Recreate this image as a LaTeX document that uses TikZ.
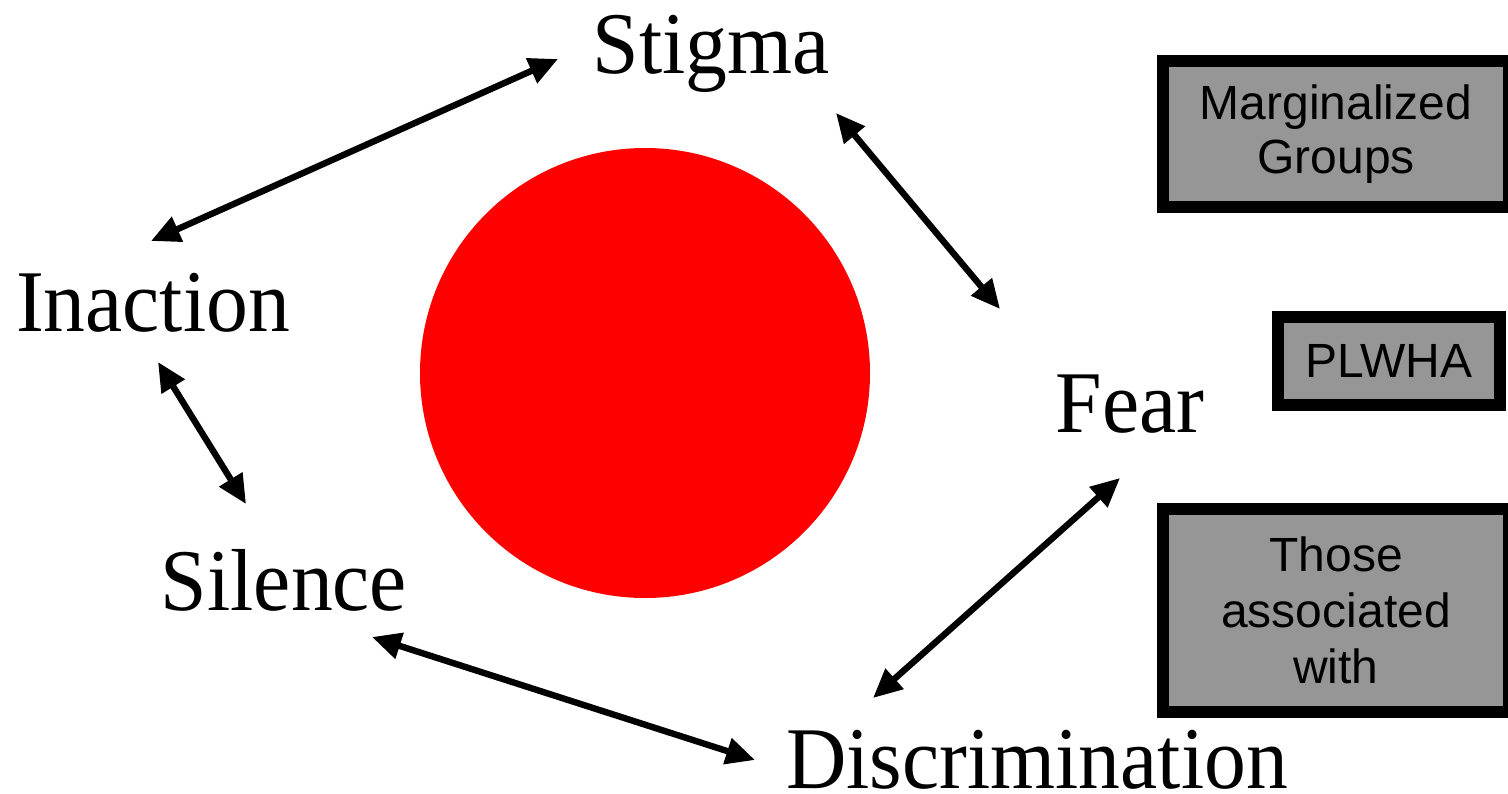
\documentclass[tikz,border=0pt]{standalone}
\usepackage{fontspec}
\setmainfont{Liberation Sans}
\newfontfamily\lblfont{Liberation Serif}[FakeStretch=0.95]
\usetikzlibrary{arrows.meta}
\definecolor{boxgray}{RGB}{150,150,150}
\definecolor{corered}{RGB}{255,0,0}
\tikzset{
  lbl/.style={font=\lblfont\fontsize{44pt}{50pt}\selectfont, inner sep=0pt, anchor=base},
  grpbox/.style={draw=black, line width=6pt, fill=boxgray, inner sep=0pt, outer sep=0pt,
    align=center, font=\fontsize{24pt}{26pt}\selectfont},
  link/.style={line width=3.2pt, {Triangle[length=14.5pt,width=13pt]}-{Triangle[length=14.5pt,width=13pt]}}
}
\begin{document}
\begin{tikzpicture}[x=0.5pt,y=-0.5pt]
\useasboundingbox (0,0) rectangle (1508,793);
\node[circle, fill=corered, inner sep=0pt, minimum size=225pt] (core) at (645,373) {};
\node[lbl] (stigma) at (711,73) {Stigma};
\node[lbl] (inaction) at (153,331) {Inaction};
\node[lbl] (fear) at (1130,432) {Fear};
\node[lbl] (silence) at (284,610) {Silence};
\node[lbl] (disc) at (1037,788) {Discrimination};
\node[grpbox, minimum width=173pt, minimum height=73pt] (marg) at (1336,134)
  {\baselineskip=26pt Marginalized\\[1pt]Groups};
\node[grpbox, minimum width=111pt, minimum height=44pt] (plwha) at (1389,361) {PLWHA};
\node[grpbox, minimum width=173pt, minimum height=101.5pt] (assoc) at (1336,610.5)
  {Those\\[2pt]associated\\[2pt]with};
\draw[link] ([shift={(-2,-90)}]inaction.base) -- ([shift={(-153,-14)}]stigma.base);
\draw[link] ([shift={(125,40)}]stigma.base) -- ([shift={(-130,-123)}]fear.base);
\draw[link] ([shift={(5,31)}]inaction.base) -- ([shift={(-38,-106)}]silence.base);
\draw[link] ([shift={(-10,46)}]fear.base) -- ([shift={(-164,-90)}]disc.base);
\draw[link] ([shift={(88,27)}]silence.base) -- ([shift={(-282,-28)}]disc.base);
\end{tikzpicture}
\end{document}
